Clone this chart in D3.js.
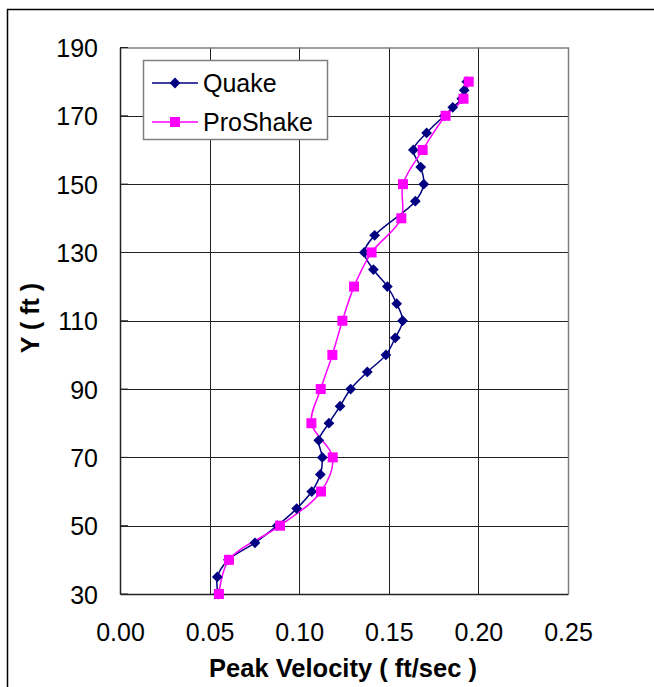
<!DOCTYPE html>
<html><head><meta charset="utf-8">
<script src="https://cdn.jsdelivr.net/npm/d3@7"></script>
<style>
html,body{margin:0;padding:0;background:#fff;}
svg{display:block;}
text{font-family:"Liberation Sans",Arial,sans-serif;}
</style></head>
<body>
<svg id="chart" width="654" height="687"></svg>
<script>
// Data
const quakeDepth = [30,35,40,45,50,55,60,65,70,75,80,85,90,95,100,105,110,115,120,125,130,135,145,150,155,160,165,170,172.5,175,177.5,180];
const quakeVel   = [0.0548,0.0543,0.0605,0.0753,0.0878,0.0986,0.1070,0.1118,0.1129,0.1109,0.1166,0.1228,0.1287,0.1380,0.1484,0.1536,0.1577,0.1544,0.1492,0.1414,0.1363,0.1421,0.1648,0.1695,0.1678,0.1637,0.1711,0.1810,0.1857,0.1907,0.1921,0.1935];
const proDepth = [30,40,50,60,70,80,90,100,110,120,130,140,150,160,170,175,180];
const proVel   = [0.0552,0.0608,0.0893,0.1122,0.1187,0.1068,0.1120,0.1185,0.1241,0.1306,0.1404,0.1570,0.1579,0.1689,0.1817,0.1917,0.1946];
const xTicks = [0,0.05,0.10,0.15,0.20,0.25];
const yTicks = [30,50,70,90,110,130,150,170,190];
const seriesNames = ["Quake","ProShake"];
const seriesColors = ["#000080","#FF00FF"];

const svg = d3.select("#chart");
const L=120, R=568, T=47.5, B=594;
const x = d3.scaleLinear().domain([0,0.25]).range([L,R]);
const y = d3.scaleLinear().domain([30,190]).range([B,T]);
const font = "Liberation Sans, Arial, sans-serif";

// outer border
svg.append("rect").attr("x",7.5).attr("y",9.5).attr("width",700).attr("height",700)
  .attr("fill","none").attr("stroke","#000").attr("stroke-width",1.5);

// gridlines
svg.append("g").selectAll("line").data(xTicks.slice(1,-1)).join("line")
  .attr("x1",d=>Math.round(x(d))+0.5).attr("x2",d=>Math.round(x(d))+0.5)
  .attr("y1",T).attr("y2",B).attr("stroke","#222").attr("stroke-width",1);
svg.append("g").selectAll("line").data(yTicks.slice(1,-1)).join("line")
  .attr("y1",d=>Math.round(y(d))+0.5).attr("y2",d=>Math.round(y(d))+0.5)
  .attr("x1",L).attr("x2",R).attr("stroke","#222").attr("stroke-width",1);

// plot border: top/right gray
svg.append("path").attr("d",`M${L},${T+0.5}H${R+0.5}V${B}`)
  .attr("fill","none").attr("stroke","#808080").attr("stroke-width",1.5);

// axes
const xAxis = svg.append("g").attr("transform",`translate(0,${B})`)
  .call(d3.axisBottom(x).tickValues(xTicks).tickFormat(d3.format(".2f")).tickSize(0).tickPadding(29));
const yAxis = svg.append("g").attr("transform",`translate(${L},0)`)
  .call(d3.axisLeft(y).tickValues(yTicks).tickSize(0).tickPadding(22));
[xAxis,yAxis].forEach(a=>{
  a.select(".domain").attr("stroke","#222").attr("stroke-width",1.5);
  a.selectAll("text").attr("font-family",font).attr("font-size",25).attr("fill","#000");
});
yAxis.selectAll("text").attr("dy","0.36em");

// inside tick marks on y axis
svg.append("g").selectAll("line").data(yTicks).join("line")
  .attr("x1",L).attr("x2",L+8).attr("y1",d=>y(d)).attr("y2",d=>y(d))
  .attr("stroke","#222").attr("stroke-width",1);

// axis titles
svg.append("text").attr("x",343).attr("y",677).attr("text-anchor","middle")
  .attr("font-family",font).attr("font-size",25.5).attr("font-weight","bold")
  .text("Peak Velocity ( ft/sec )");
svg.append("text").attr("transform","translate(39,318) rotate(-90)").attr("text-anchor","middle")
  .attr("font-family",font).attr("font-size",25).attr("font-weight","bold")
  .text("Y ( ft )");

// series
const line = d3.line().x(d=>x(d[0])).y(d=>y(d[1])).curve(d3.curveCatmullRom.alpha(0.5));
const quake = quakeVel.map((v,i)=>[v,quakeDepth[i]]);
const pro = proVel.map((v,i)=>[v,proDepth[i]]);

svg.append("path").datum(quake).attr("d",line).attr("fill","none")
  .attr("stroke",seriesColors[0]).attr("stroke-width",1.5);
svg.append("path").datum(pro).attr("d",line).attr("fill","none")
  .attr("stroke",seriesColors[1]).attr("stroke-width",1.5);

const diamond = d3.symbol().type(d3.symbolSquare).size(58);
svg.append("g").selectAll("path").data(quake).join("path")
  .attr("d",diamond).attr("transform",d=>`translate(${x(d[0])},${y(d[1])}) rotate(45)`)
  .attr("fill",seriesColors[0]);
svg.append("g").selectAll("rect").data(pro).join("rect")
  .attr("x",d=>x(d[0])-5).attr("y",d=>y(d[1])-5).attr("width",10).attr("height",10)
  .attr("fill",seriesColors[1]);

// legend
const lg = svg.append("g");
lg.append("rect").attr("x",143.5).attr("y",60.5).attr("width",184).attr("height",79)
  .attr("fill","#fff").attr("stroke","#808080").attr("stroke-width",1.5);
const items = [{y:83},{y:122}];
items.forEach((it,i)=>{
  lg.append("line").attr("x1",152).attr("x2",198).attr("y1",it.y).attr("y2",it.y)
    .attr("stroke",seriesColors[i]).attr("stroke-width",1.5);
  if(i===0){
    lg.append("path").attr("d",diamond).attr("transform",`translate(175,${it.y}) rotate(45)`).attr("fill",seriesColors[0]);
  } else {
    lg.append("rect").attr("x",170).attr("y",it.y-5).attr("width",10).attr("height",10).attr("fill",seriesColors[1]);
  }
  lg.append("text").attr("x",203).attr("y",it.y).attr("dy","0.36em")
    .attr("font-family",font).attr("font-size",25).text(seriesNames[i]);
});
</script>
</body></html>
